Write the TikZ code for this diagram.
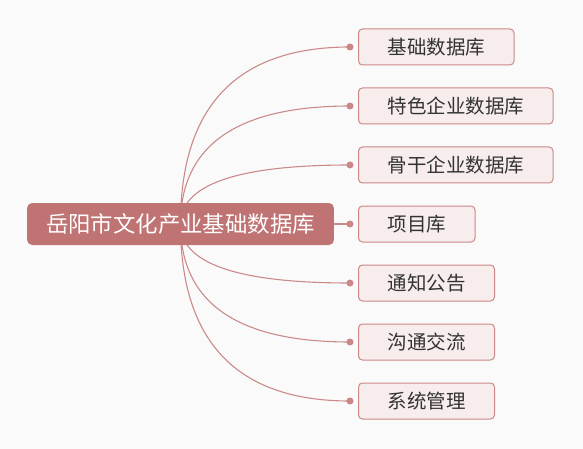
\documentclass[tikz,border=0pt]{standalone}
\usepackage{fontspec}
\usepackage{xcolor}
\usepackage{tikz}
\usetikzlibrary{calc}
\newfontfamily\cjk{Noto Sans CJK SC}
\definecolor{paper}{RGB}{251,250,250}
\definecolor{rootred}{RGB}{191,115,114}
\definecolor{linkred}{RGB}{202,138,138}
\definecolor{boxline}{RGB}{204,136,136}
\definecolor{boxfill}{RGB}{248,237,237}
\definecolor{boxtext}{RGB}{51,51,51}
\tikzstyle{topic}=[rounded corners=5pt,fill=rootred,text=white,font=\cjk\fontsize{22.4}{26}\selectfont,
  inner xsep=19pt,minimum height=42pt,inner ysep=0pt]
\tikzstyle{sub}=[draw=boxline,line width=1pt,rounded corners=4pt,fill=boxfill,text=boxtext,
  font=\cjk\fontsize{19.5}{23}\selectfont,inner xsep=29pt,minimum height=36pt,inner ysep=0pt,anchor=west]
\tikzstyle{link}=[draw=linkred,line width=1.1pt]
\tikzstyle{knob}=[fill=rootred!85!white]
% curved branch: quadratic from the hub, bending round (hub |- end)
\newcommand\branch[1]{\draw[link] (hub)
  .. controls ($(hub)!2/3!(hub |- #1.west)$) and ($([xshift=-8pt]#1.west)!2/3!(hub |- #1.west)$)
  .. ([xshift=-8pt]#1.west);}
\newcommand\knob[1]{\fill[knob] ([xshift=-8pt]#1.west) circle (3.5pt);}

\begin{document}
\begin{tikzpicture}[x=1pt,y=-1pt]
	\fill[paper] (0,0) rectangle (583,449);
	\useasboundingbox (0,0) rectangle (583,449);
	\coordinate (hub) at (180.5,224);
	% branches
	\node[sub] (c1) at (358,47)  {基础数据库};
	\node[sub] (c2) at (358,106) {特色企业数据库};
	\node[sub] (c3) at (358,165) {骨干企业数据库};
	\node[sub] (c4) at (358,224) {项目库};
	\node[sub] (c5) at (358,283) {通知公告};
	\node[sub] (c6) at (358,342) {沟通交流};
	\node[sub] (c7) at (358,401) {系统管理};
	\branch{c1}
	\branch{c2}
	\branch{c3}
	\draw[link] (hub) -- ([xshift=-8pt]c4.west);
	\branch{c5}
	\branch{c6}
	\branch{c7}
	\knob{c1}\knob{c2}\knob{c3}\knob{c4}\knob{c5}\knob{c6}\knob{c7}
	% centre topic on top of the branch roots
	\node[topic] (root) at (hub) {岳阳市文化产业基础数据库};
\end{tikzpicture}
\end{document}
